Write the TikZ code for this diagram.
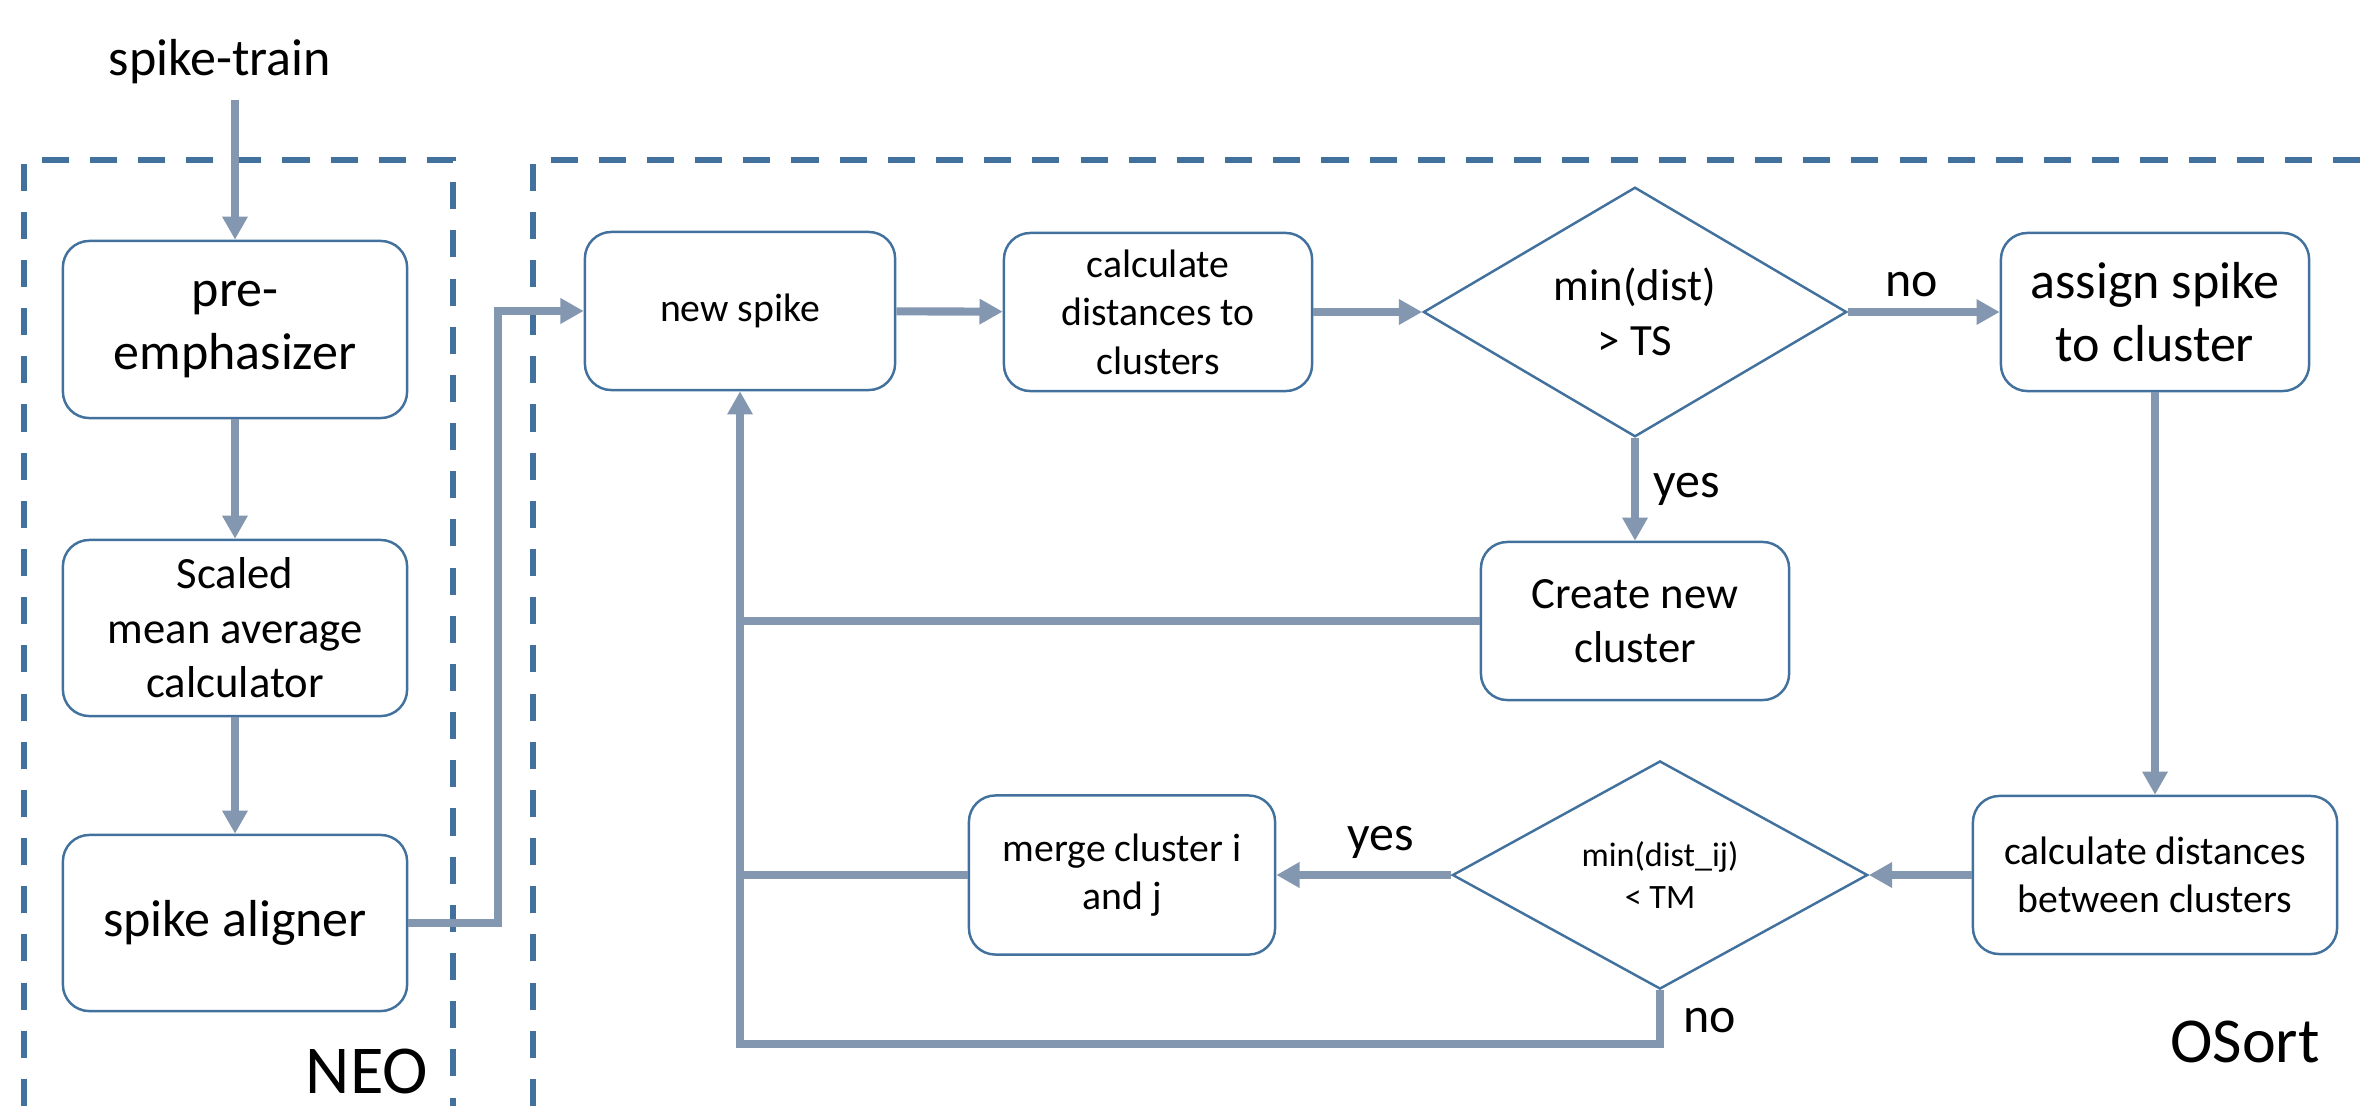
\documentclass[tikz,border=0pt]{standalone}
\usepackage{fontspec}
\setmainfont{Carlito}
\usepackage{tikz}
\usetikzlibrary{shapes.geometric, arrows.meta}

\definecolor{frameblue}{HTML}{41719C}
\definecolor{flowgray}{HTML}{8497B0}

\tikzstyle{block} = [draw=frameblue, line width=0.7pt, rectangle, rounded corners=7.5pt,
    minimum height=1.58cm, minimum width=3.08cm, inner sep=0pt, align=center]
\tikzstyle{decision} = [draw=frameblue, line width=0.7pt, diamond, inner sep=0pt, align=center]
\tikzstyle{arrow} = [draw=flowgray, line width=2.3pt, ->, >={Triangle[length=6.6pt, width=6.9pt]}]
\tikzstyle{link} = [draw=flowgray, line width=2.3pt]
\tikzstyle{dashframe} = [draw=frameblue, line width=1.85pt, dash pattern=on 7.7pt off 6pt]
\tikzstyle{bigfont} = [font=\fontsize{14.8}{18}\selectfont]
\tikzstyle{midfont} = [font=\fontsize{12.7}{15.5}\selectfont]
\tikzstyle{smallfont} = [font=\fontsize{11.3}{13.8}\selectfont]
\tikzstyle{tinyfont} = [font=\fontsize{9.7}{11.8}\selectfont]
\tikzstyle{answer} = [font=\fontsize{14.2}{17}\selectfont, anchor=base, inner sep=0pt]

\begin{document}
\begin{tikzpicture}[x=0.01cm, y=-0.01cm]
\useasboundingbox (0,0) rectangle (2380,1106);

            % Frames
            \draw [dashframe] (24,1106) -- (24,160) -- (453,160) -- (453,1106);
            \draw [dashframe] (533,1106) -- (533,160) -- (2380,160);
            \node (neo) [font=\fontsize{19.5}{23}\selectfont, anchor=base, inner sep=0pt] at (367,1093) {NEO};
            \node (osort) [font=\fontsize{18.2}{22}\selectfont, anchor=base, inner sep=0pt] at (2245,1062) {OSort};

            % Blocks
            \node (train) [bigfont, anchor=base, inner sep=0pt] at (220,75) {spike-train};
            \coordinate (trainout) at (235,100);
            \node (pre) [block, bigfont, minimum width=3.44cm, minimum height=1.77cm] at (235,329.5) {pre-\\emphasizer};
            \node (scaled) [block, midfont, minimum width=3.44cm, minimum height=1.76cm] at (235,628) {Scaled\\mean average\\calculator};
            \node (aligner) [block, bigfont, minimum width=3.44cm, minimum height=1.76cm] at (235,923) {spike aligner};
            \node (newspike) [block, smallfont, minimum width=3.10cm] at (740,311) {new spike};
            \node (dist) [block, smallfont] at (1158,312) {calculate\\distances to\\clusters};
            \node (ts) [decision, midfont, minimum width=4.23cm, minimum height=2.29cm] at (1635,312) {min(dist)\\> TS};
            \node (assign) [block, bigfont] at (2155,312) {assign spike\\to cluster};
            \node (create) [block, midfont] at (1635,621) {Create new\\cluster};
            \node (between) [block, smallfont, minimum width=3.64cm] at (2155,875) {calculate distances\\between clusters};
            \node (tm) [decision, tinyfont, minimum width=4.15cm, minimum height=2.28cm] at (1660,875) {min(dist\_ij)\\< TM};
            \node (merge) [block, smallfont, minimum width=3.06cm, minimum height=1.59cm] at (1122,875) {merge cluster i\\and j};

            % Labels
            \node (tsno) [answer] at (1912,296) {no};
            \node (tsyes) [answer] at (1687,497) {yes};
            \node (tmyes) [answer] at (1381,850) {yes};
            \node (tmno) [answer] at (1710,1032) {no};

            % Arrows
            \draw [arrow] (trainout) -- (pre);
            \draw [arrow] (pre) -- (scaled);
            \draw [arrow] (scaled) -- (aligner);
            \draw [arrow] (aligner.east) -- ++(90,0) |- (newspike.west);
            \draw [arrow] (newspike) -- (dist);
            \draw [arrow] (dist) -- (ts);
            \draw [arrow] (ts) -- (assign);
            \draw [arrow] (ts) -- (create);
            \draw [arrow] (assign) -- (between);
            \draw [arrow] (between) -- (tm);
            \draw [arrow] (tm) -- (merge);
            \draw [link] (create.west) -- (newspike.south |- create.west);
            \draw [link] (merge.west) -- (newspike.south |- merge.west);
            \draw [arrow] (tm.south) -- ++(0,54) -| (newspike.south);

\end{tikzpicture}
\end{document}
